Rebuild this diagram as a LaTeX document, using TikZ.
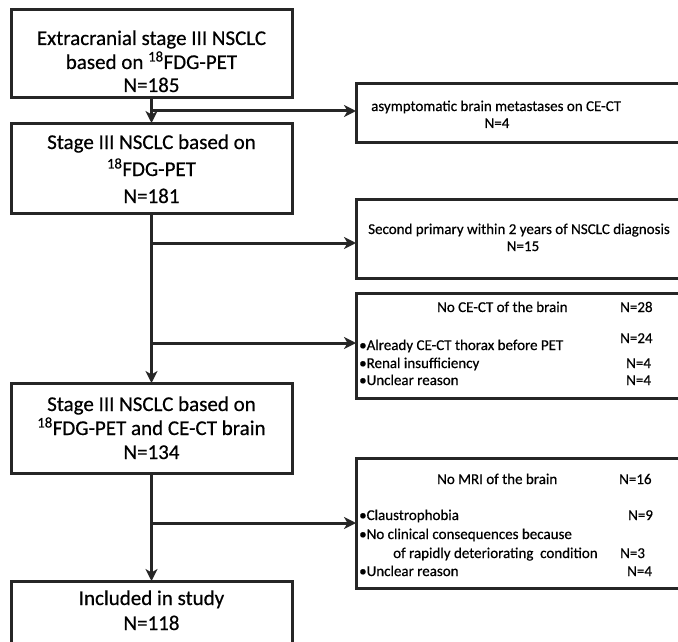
\documentclass[tikz,border=0pt]{standalone}
\usepackage{fontspec}
\setmainfont{Carlito}[FakeBold=0.5]
\usetikzlibrary{arrows.meta}
\definecolor{ink}{HTML}{262626}
\tikzset{
  box/.style={draw=ink, line width=3pt, inner sep=0pt, outer sep=0pt, anchor=north west},
  big/.style={font=\fontsize{21}{25}\selectfont, inner sep=0pt, anchor=base, text=black},
  small/.style={font=\fontsize{15}{18}\selectfont, inner sep=0pt, anchor=base west, text=black},
  flow/.style={draw=ink, line width=3pt, -{Stealth[length=12pt,width=12pt,inset=3.5pt]}},
}
\begin{document}
\begin{tikzpicture}[x=1pt,y=-1pt]
\useasboundingbox (0,0) rectangle (678,642);
\clip (0,0) rectangle (678,642);
\fill[white] (0,0) rectangle (678,642);

% main column boxes
\node[box, minimum width=281pt, minimum height=88pt] (b1) at (11,10) {};
\node[box, minimum width=281pt, minimum height=90pt] (b2) at (11,123) {};
\node[box, minimum width=281pt, minimum height=90pt] (b3) at (11,383) {};
\node[box, minimum width=281pt, minimum height=80pt] (b4) at (11,581) {};

% right exclusion boxes (cut off at the right edge)
\node[box, minimum width=344pt, minimum height=58pt] (r1) at (356,84) {};
\node[box, minimum width=344pt, minimum height=79pt] (r2) at (356,199) {};
\node[box, minimum width=344pt, minimum height=105pt] (r3) at (356,293) {};
\node[box, minimum width=344pt, minimum height=130pt] (r4) at (356,458) {};

% texts of main boxes
\node[big] (t1a) at (151.5,45) {Extracranial stage III NSCLC};
\node[big] (t1b) at (151.5,69) {based on \textsuperscript{18}FDG-PET};
\node[big] (t1c) at (151.5,92) {N=185};

\node[big] (t2a) at (151.5,149) {Stage III NSCLC based on};
\node[big] (t2b) at (151.5,176) {\textsuperscript{18}FDG-PET};
\node[big] (t2c) at (151.5,203) {N=181};

\node[big] (t3a) at (151.5,411) {Stage III NSCLC based on};
\node[big] (t3b) at (151.5,435) {\textsuperscript{18}FDG-PET and CE-CT brain};
\node[big] (t3c) at (151.5,459) {N=134};

\node[big] (t4a) at (151.5,605) {Included in study};
\node[big] (t4b) at (151.5,630) {N=118};

% texts of right boxes
\node[small] (s1a) at (371,111) {asymptomatic brain metastases on CE-CT};
\node[small, anchor=base] (s1b) at (497,128) {N=4};

\node[small] (s2a) at (368,234) {Second primary within 2 years of NSCLC diagnosis};
\node[small, anchor=base] (s2b) at (523,251) {N=15};

\node[small] (s3a) at (437,312) {No CE-CT of the brain};
\node[small] (s3an) at (620,312) {N=28};
\node[small] (s3b) at (359,350) {\textbullet Already CE-CT thorax before PET};
\node[small] (s3bn) at (620,343) {N=24};
\node[small] (s3c) at (359,368) {\textbullet Renal insufficiency};
\node[small] (s3cn) at (626,368) {N=4};
\node[small] (s3d) at (359,385) {\textbullet Unclear reason};
\node[small] (s3dn) at (626,385) {N=4};

\node[small] (s4a) at (437,484) {No MRI of the brain};
\node[small] (s4an) at (619,484) {N=16};
\node[small] (s4b) at (359,520) {\textbullet Claustrophobia};
\node[small] (s4bn) at (628,520) {N=9};
\node[small] (s4c) at (359,539) {\textbullet No clinical consequences because};
\node[small] (s4d) at (393,558) {of rapidly deteriorating\ \ condition};
\node[small] (s4dn) at (620,558) {N=3};
\node[small] (s4e) at (359,576) {\textbullet Unclear reason};
\node[small] (s4en) at (627,576) {N=4};

% junctions
\coordinate (j1) at (151.5,111);
\coordinate (j2) at (151.5,243);
\coordinate (j3) at (151.5,343);
\coordinate (j4) at (151.5,523);

% connectors
\draw[flow] (b1.south) -- (b2.north);
\draw[flow] (j1) -- (j1 -| r1.west);
\draw[flow] (b2.south) -- (b3.north);
\draw[flow] (j2) -- (j2 -| r2.west);
\draw[flow] (j3) -- (j3 -| r3.west);
\draw[flow] (b3.south) -- (b4.north);
\draw[flow] (j4) -- (j4 -| r4.west);
\end{tikzpicture}
\end{document}
